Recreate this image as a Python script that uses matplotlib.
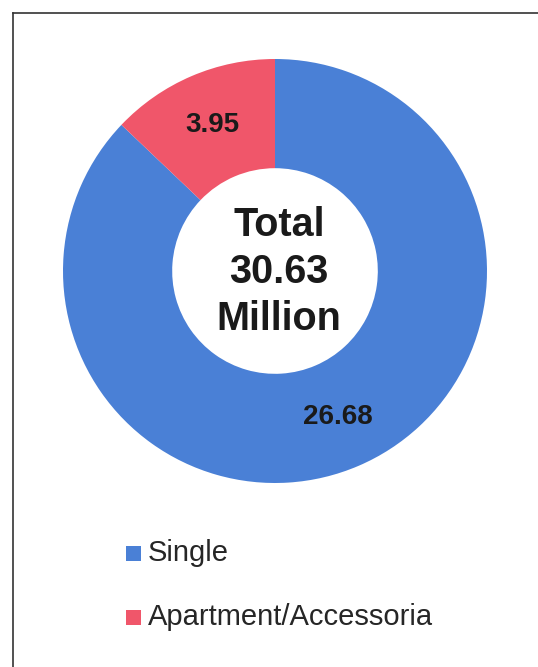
import matplotlib
matplotlib.use("Agg")
import matplotlib.pyplot as plt
from matplotlib.patches import Rectangle
from matplotlib.lines import Line2D
import numpy as np

# data
categories = ["Single", "Apartment/Accessoria"]
values = [26.68, 3.95]
colors = ["#4a80d6", "#f0566a"]
total_text = "Total\n30.63\nMillion"

plt.rcParams["font.family"] = ["Liberation Sans", "DejaVu Sans"]

W, H = 538, 667
fig = plt.figure(figsize=(W / 100, H / 100), dpi=100)
fig.patch.set_facecolor("white")

# donut: center (275, 271) px from top, radius 212 px
cx, cy, R = 275, 271, 212
ax = fig.add_axes([(cx - R) / W, (H - cy - R) / H, 2 * R / W, 2 * R / H])
wedges, _ = ax.pie(values, colors=colors, startangle=90, counterclock=False,
                   radius=1, wedgeprops=dict(width=0.515, linewidth=0))
ax.set_xlim(-1, 1)
ax.set_ylim(-1, 1)
ax.set_aspect("equal")
ax.axis("off")

# value labels on the ring
ang = 90.0
tot = sum(values)
for v in values:
    span = v / tot * 360
    mid = np.deg2rad(ang - span / 2)
    ax.text(0.75 * np.cos(mid), 0.75 * np.sin(mid), f"{v:.2f}",
            ha="center", va="center", fontsize=20, fontweight="bold", color="#1a1a1a")
    ang -= span

ax.text(0.02, -0.005, total_text, ha="center", va="center", fontsize=28.5,
        fontweight="bold", color="#1a1a1a", linespacing=1.3)

# legend
for i, (lab, col) in enumerate(zip(categories, colors)):
    ycen = 553 + i * 64
    fig.patches.append(Rectangle((126 / W, 1 - (ycen + 8) / H), 15 / W, 15 / H,
                                 transform=fig.transFigure, facecolor=col,
                                 edgecolor="none"))
    fig.text(148 / W, 1 - ycen / H, lab, ha="left", va="center",
             fontsize=21, color="#262626")

# frame (left and top edges)
fig.add_artist(Line2D([13 / W, 13 / W], [0, 1 - 13 / H], transform=fig.transFigure,
                      color="#333333", linewidth=1.2))
fig.add_artist(Line2D([13 / W, 1], [1 - 13 / H, 1 - 13 / H], transform=fig.transFigure,
                      color="#333333", linewidth=1.2))

fig.savefig("out.png", dpi=100)
